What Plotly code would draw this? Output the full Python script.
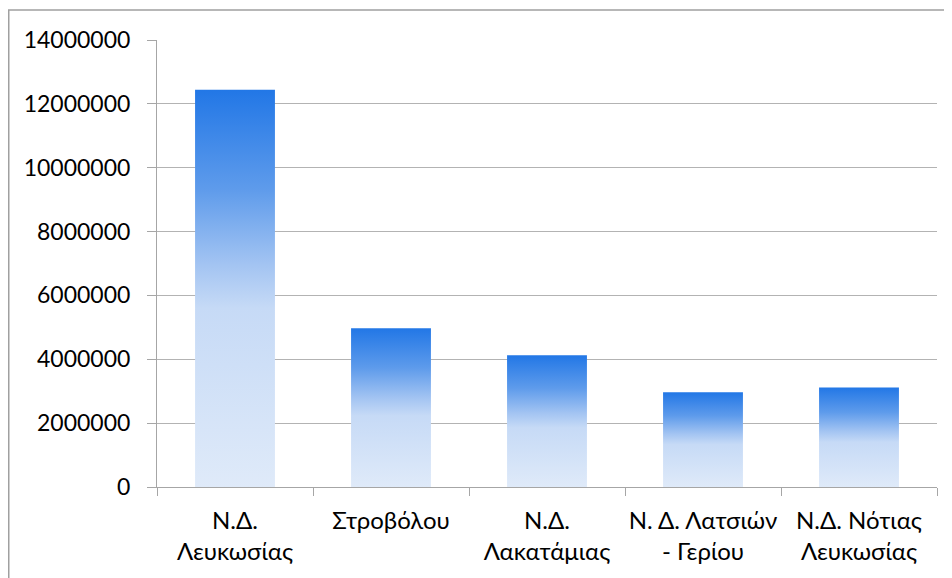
import plotly.graph_objects as go

categories = ["Ν.Δ.<br>Λευκωσίας", "Στροβόλου", "Ν.Δ.<br>Λακατάμιας", "Ν. Δ. Λατσιών<br>- Γερίου", "Ν.Δ. Νότιας<br>Λευκωσίας"]
values = [12440000, 4970000, 4130000, 2970000, 3120000]
y_ticks = [0, 2000000, 4000000, 6000000, 8000000, 10000000, 12000000, 14000000]

# page body has an 8px margin, so the figure is placed at (8, 8)
OFF = 8
W, H = 952 - OFF, 578 - OFF
L, T = 157 - OFF, 40 - OFF
R = W - (937 - OFF)
B = H - (487 - OFF)
plot_w = W - L - R
plot_h = H - T - B

half = 0.256
grad = [[0.0, "#dfeaf9"], [0.45, "#c6daf6"], [0.56, "#a3c4f2"], [0.75, "#5e9beb"], [1.0, "#2277e6"]]

fig = go.Figure()
for i, v in enumerate(values):
    fig.add_trace(go.Scatter(
        x=[i - half, i + half, i + half, i - half, i - half],
        y=[0, 0, v, v, 0],
        mode="lines", line=dict(width=0, color="rgba(0,0,0,0)"),
        fill="toself",
        fillgradient=dict(type="vertical", colorscale=grad, start=0, stop=v),
        hoverinfo="skip", showlegend=False,
    ))

font_y = dict(family="Lato, Carlito, 'Liberation Sans', sans-serif", size=23, color="#000000")
font_x = dict(family="Lato, Carlito, 'Liberation Sans', sans-serif", size=24, color="#000000")
grey = "#a6a6a6"

fig.update_layout(
    width=W, height=H,
    margin=dict(l=L, r=R, t=T, b=B),
    paper_bgcolor="white", plot_bgcolor="white",
    font=font_y, showlegend=False,
    xaxis=dict(
        range=[-0.5, len(values) - 0.5], tickmode="array",
        tickvals=list(range(len(values))), ticktext=categories,
        ticks="", showgrid=False, zeroline=False,
        showline=True, linecolor=grey, linewidth=1,
        ticklabelstandoff=12,
        minor=dict(tickmode="array", tickvals=[i - 0.5 for i in range(len(values) + 1)],
                   ticks="outside", ticklen=8, tickcolor=grey, tickwidth=1, showgrid=False),
        tickfont=font_x, fixedrange=True,
    ),
    yaxis=dict(
        range=[0, 14000000], tickmode="array", tickvals=y_ticks,
        ticktext=[str(t) for t in y_ticks],
        ticks="outside", ticklen=9, tickcolor=grey, tickwidth=1,
        showgrid=True, gridcolor="#b3b3b3", gridwidth=1,
        zeroline=False, showline=True, linecolor=grey, linewidth=1,
        ticklabelstandoff=12, tickfont=font_y, fixedrange=True,
    ),
)

# outer chart border (left and top edges visible; right/bottom fall outside the view)
fig.add_shape(type="rect", xref="paper", yref="paper",
              x0=(0.75 - L) / plot_w, x1=(W + 20 - L) / plot_w,
              y0=-(H + 20 - (T + plot_h)) / plot_h, y1=(T + plot_h - (10 - OFF)) / plot_h,
              line=dict(color="#a0a0a0", width=1.5), fillcolor="rgba(0,0,0,0)", layer="below")

fig.write_html("out.html")
